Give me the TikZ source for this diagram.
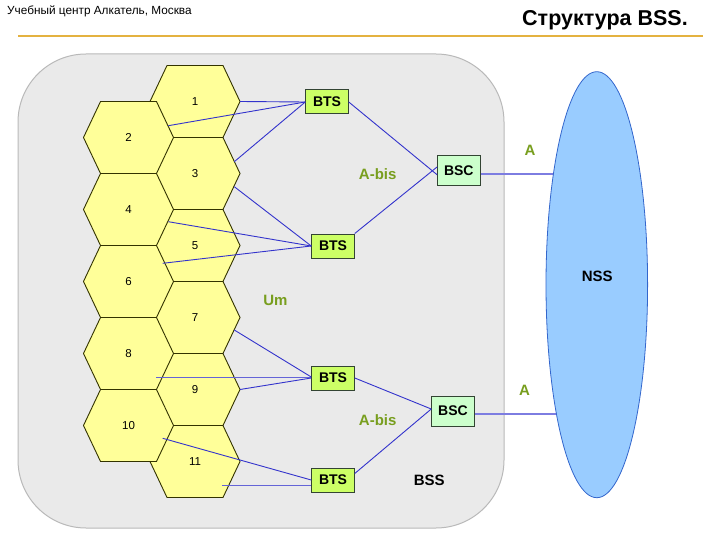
\documentclass[tikz,border=0pt]{standalone}
\usepackage{fontspec}
\setmainfont{Liberation Sans}
\usetikzlibrary{shapes.geometric}
\definecolor{hexfill}{RGB}{255,255,153}
\definecolor{hexline}{RGB}{51,51,0}
\definecolor{bssfill}{RGB}{234,234,234}
\definecolor{bssline}{RGB}{185,185,185}
\definecolor{btsfill}{RGB}{204,255,102}
\definecolor{bscfill}{RGB}{204,255,204}
\definecolor{boxline}{RGB}{51,68,51}
\definecolor{link}{RGB}{51,51,204}
\definecolor{hlink}{RGB}{100,100,215}
\definecolor{alink}{RGB}{125,125,225}
\definecolor{lbl}{RGB}{120,158,30}
\definecolor{nssfill}{RGB}{153,204,255}
\definecolor{nssline}{RGB}{51,102,204}
\definecolor{rule}{RGB}{228,178,64}
\newcommand\hexcell[3]{%
  \draw[hexshape, shift={(#2,#3)}] (-45,0) -- (-28,-36) -- (28,-36) -- (45,0) -- (28,36) -- (-28,36) -- cycle;
  \node[hexlabel] (h#1) at (#2,#3) {#1};}
\tikzset{
  hexshape/.style={fill=hexfill, draw=hexline, line width=0.9pt, line join=miter},
  hexlabel/.style={font=\fontsize{11.5}{12}\selectfont, inner sep=0pt},
  btsbox/.style={draw=boxline, fill=btsfill, line width=1pt, minimum width=42.5pt, minimum height=24pt, inner sep=0pt, font=\fontsize{14}{15}\selectfont\bfseries},
  bscbox/.style={draw=boxline, fill=bscfill, line width=1pt, minimum width=42.5pt, minimum height=30pt, inner sep=0pt, font=\fontsize{14}{15}\selectfont\bfseries},
  conn/.style={draw=link, line width=0.9pt},
  hconn/.style={draw=hlink, line width=1.4pt},
  aconn/.style={draw=alink, line width=1.8pt},
  glabel/.style={text=lbl, font=\fontsize{15}{16}\selectfont\bfseries, inner sep=0pt},
  blabel/.style={text=black, font=\fontsize{15}{16}\selectfont\bfseries, inner sep=0pt}
}
\begin{document}
\begin{tikzpicture}[x=1pt,y=-1pt]
\useasboundingbox (0,0) rectangle (720,540);
% header
\node[anchor=west, inner sep=0pt, font=\fontsize{11.8}{12}\selectfont] (hdr) at (7,11) {Учебный центр Алкатель, Москва};
\node[anchor=east, inner sep=0pt, font=\fontsize{21.5}{22}\selectfont\bfseries] (ttl) at (688,20) {Структура BSS.};
\draw[draw=rule, line width=2.5pt] (18,36) -- (703,36);
% BSS area
\draw[fill=bssfill, draw=bssline, line width=1pt, rounded corners=68pt] (18,54) rectangle (504,528);
% hexagons: right column first, left column on top
\hexcell{1}{195}{101.5}
\hexcell{3}{195}{173.5}
\hexcell{5}{195}{245.5}
\hexcell{7}{195}{317.5}
\hexcell{9}{195}{389.5}
\hexcell{11}{195}{461.5}
\hexcell{2}{128.5}{137.5}
\hexcell{4}{128.5}{209.5}
\hexcell{6}{128.5}{281.5}
\hexcell{8}{128.5}{353.5}
\hexcell{10}{128.5}{425.5}
% cell link points
\coordinate (c1) at (240,101.5);
\coordinate (c2) at (168.3,125.7);
\coordinate (c3a) at (234.3,161.7);
\coordinate (c3b) at (234.3,186.7);
\coordinate (c4) at (168.3,221.7);
\coordinate (c5) at (162.7,263.3);
\coordinate (c7) at (234.3,330);
\coordinate (c8) at (156,377.5);
\coordinate (c9) at (240,389.5);
\coordinate (c10) at (162.7,438.3);
\coordinate (c11) at (222.3,485.5);
% equipment
\node[btsbox] (bts1) at (327,102) {BTS};
\node[btsbox] (bts2) at (333,246) {BTS};
\node[btsbox] (bts3) at (333,378) {BTS};
\node[btsbox] (bts4) at (333,480) {BTS};
\node[bscbox] (bsc1) at (458.8,171) {BSC};
\node[bscbox] (bsc2) at (453,411) {BSC};
% radio links
\draw[conn] (c1) -- (bts1.west);
\draw[conn] (c2) -- (bts1.west);
\draw[conn] (c3a) -- (bts1.west);
\draw[conn] (c3b) -- (bts2.west);
\draw[conn] (c4) -- (bts2.west);
\draw[conn] (c5) -- (bts2.west);
\draw[conn] (c7) -- ([yshift=1pt]bts3.west);
\draw[hconn] (c8) -- (c8 -| bts3.west);
\draw[conn] (c9) -- (bts3.west);
\draw[conn] (c10) -- (bts4.west);
\draw[hconn] (c11) -- (c11 -| bts4.west);
% A-bis links
\draw[conn] (bts1.east) -- ([yshift=-3.7pt]bsc1.west);
\draw[conn] (bts2.north east) -- ([yshift=4pt]bsc1.west);
\draw[conn] (bts3.east) -- ([yshift=2pt]bsc2.west);
\draw[conn] ([yshift=-6pt]bts4.north east) -- ([yshift=2pt]bsc2.west);
% A links
\coordinate (nssc) at (596.8,284.7);
\draw[aconn] ([yshift=-3pt]bsc1.east) -- ([yshift=-3pt]bsc1.east -| nssc);
\draw[aconn] ([yshift=-3pt]bsc2.east) -- ([yshift=-3pt]bsc2.east -| nssc);
\node[draw=nssline, fill=nssfill, line width=0.8pt, ellipse, minimum width=101.6pt, minimum height=426pt, inner sep=0pt] (nss) at (nssc) {};
\node[blabel] (nsslbl) at (597.3,276.7) {NSS};
% labels
\node[glabel] (abis1) at (377.7,174.3) {A-bis};
\node[glabel] (abis2) at (377.7,420) {A-bis};
\node[glabel] (um) at (275.5,300) {Um};
\node[glabel] (a1) at (530,150) {A};
\node[glabel] (a2) at (524.5,390) {A};
\node[blabel] (bss) at (429.3,480) {BSS};
\end{tikzpicture}
\end{document}
